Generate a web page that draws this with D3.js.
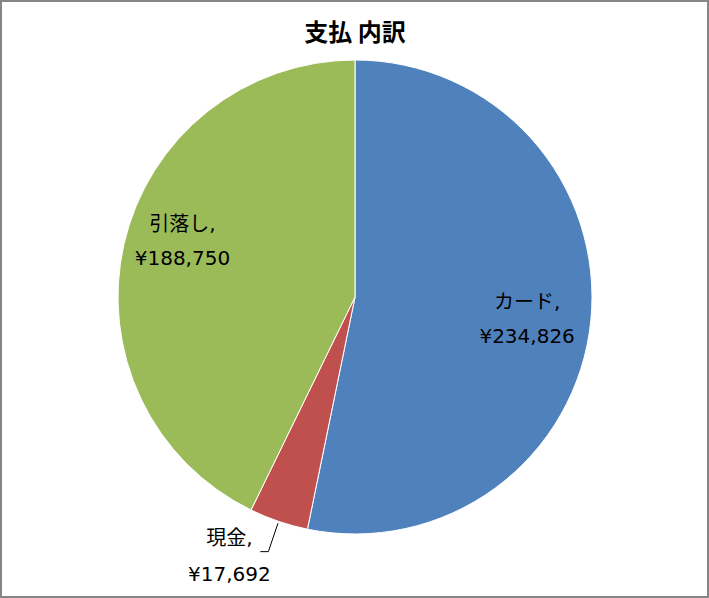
<!DOCTYPE html>
<html><head><meta charset="utf-8">
<script src="https://cdn.jsdelivr.net/npm/d3@7"></script>
<style>body{margin:0;background:#fff}svg{display:block}</style>
</head><body>
<script>
const categories = ["カード", "現金", "引落し"];
const values = [234826, 17692, 188750];
const valueLabels = ["¥234,826", "¥17,692", "¥188,750"];
const colors = ["#4F81BD", "#C0504D", "#9BBB59"];
const title = "支払 内訳";

const W = 709, H = 598;
const cx = 355, cy = 297, R = 237;
const font = "'DejaVu Sans','Noto Sans CJK JP',sans-serif";

const svg = d3.select("body").append("svg").attr("width", W).attr("height", H);
svg.append("rect").attr("x", 1).attr("y", 1).attr("width", W - 2).attr("height", H - 2)
  .attr("fill", "#fff").attr("stroke", "#868686").attr("stroke-width", 2);

svg.append("text").attr("x", cx).attr("y", 41).attr("text-anchor", "middle")
  .attr("font-family", "'Noto Sans CJK JP',sans-serif").attr("font-weight", "bold")
  .attr("font-size", 24).attr("fill", "#000").text(title);

const data = categories.map((c, i) => ({ c, v: values[i], l: valueLabels[i], col: colors[i] }));
const pie = d3.pie().value(d => d.v).sort(null);
const arcs = pie(data);
const arc = d3.arc().innerRadius(0).outerRadius(R);

const g = svg.append("g").attr("transform", `translate(${cx},${cy})`);
g.selectAll("path").data(arcs).join("path")
  .attr("d", arc).attr("fill", d => d.data.col)
  .attr("stroke", "#fff").attr("stroke-width", 1);

const fs = 20;
arcs.forEach(a => {
  const mid = (a.startAngle + a.endAngle) / 2;
  const dx = Math.sin(mid), dy = -Math.cos(mid);
  const frac = (a.endAngle - a.startAngle) / (2 * Math.PI);
  if (frac > 0.1) {
    const rr = R * 0.73;
    let x = dx * rr, y = dy * rr;
    if (dx < 0) { y -= 22; x -= 4; }
    const t = g.append("text").attr("text-anchor", "middle")
      .attr("font-family", font).attr("font-size", fs).attr("fill", "#000");
    t.append("tspan").attr("x", x).attr("y", y - 5).text(a.data.c + ",");
    t.append("tspan").attr("x", x).attr("y", y + 29).text(a.data.l);
  } else {
    const p0 = [dx * (R + 2), dy * (R + 2)];
    const p1 = [dx * 269, dy * 269];
    const p2 = [p1[0] - 8, p1[1]];
    g.append("polyline").attr("points", [p0, p1, p2].map(p => p.join(",")).join(" "))
      .attr("fill", "none").attr("stroke", "#000").attr("stroke-width", 1);
    const x = p1[0] - 39;
    const t = g.append("text").attr("text-anchor", "middle")
      .attr("font-family", font).attr("font-size", fs).attr("fill", "#000");
    t.append("tspan").attr("x", x).attr("y", p1[1] - 7).text(a.data.c + ",");
    t.append("tspan").attr("x", x).attr("y", p1[1] + 29).text(a.data.l);
  }
});
</script>
</body></html>
